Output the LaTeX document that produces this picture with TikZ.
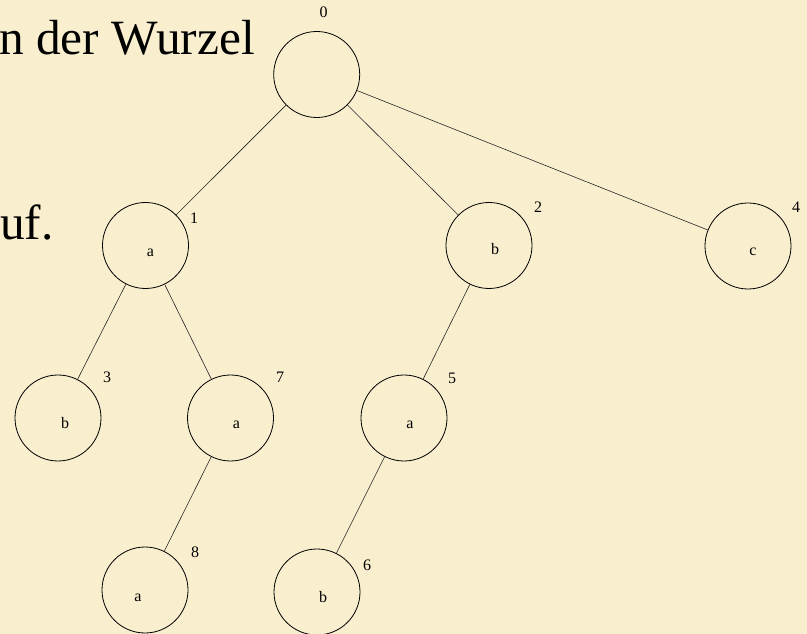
\documentclass[tikz,border=0pt]{standalone}
\usepackage{fontspec}
\setmainfont{Liberation Serif}
\begin{document}
\begin{tikzpicture}[x=0.75pt,y=-0.75pt,
  tnode/.style={circle,draw=black,line width=0.6pt,minimum size=64.5pt,inner sep=0pt},
  lett/.style={inner sep=0pt,font=\fontsize{12}{14}\selectfont},
  num/.style={inner sep=0pt,font=\fontsize{12}{14}\selectfont},
  edge/.style={draw=black!85,line width=0.45pt},
  bigtext/.style={inner sep=0pt,font=\fontsize{37}{44}\selectfont}]
\fill[fill={rgb,255:red,249;green,239;blue,206}] (0,0) rectangle (807,634);
\useasboundingbox (0,0) rectangle (807,634);
\clip (0,0) rectangle (807,634);
\node[bigtext,anchor=base east] (t1) at (255,55) {n der Wurzel};
\node[bigtext,anchor=base west] (t2) at (-22,240) {auf.};
\node[tnode,label={[lett,xshift=3.75pt,yshift=-5.25pt]center:a}] (n1) at (145.5,245.5) {};
\node[tnode] (n0) at (316.7,74.5) {};
\node[tnode,label={[lett,xshift=4.5pt,yshift=-3pt]center:b}] (n2) at (489,245.5) {};
\node[tnode,label={[lett,xshift=3.75pt,yshift=-4.5pt]center:c}] (n4) at (748,246) {};
\node[tnode,label={[lett,xshift=5.25pt,yshift=-3.75pt]center:b}] (n3) at (58,418) {};
\node[tnode,label={[lett,xshift=4.5pt,yshift=-5.25pt]center:a}] (n7) at (230.5,418) {};
\node[tnode,label={[lett,xshift=4.5pt,yshift=-5.25pt]center:a}] (n5) at (404,418) {};
\node[tnode,label={[lett,xshift=-5.25pt,yshift=-6pt]center:a}] (n8) at (145,590) {};
\node[tnode,label={[lett,xshift=4.5pt,yshift=-3.75pt]center:b}] (n6) at (317,592) {};
\path (n0) ++(7,-62) node[num] {0};
\path (n1) ++(48.5,-27.5) node[num] {1};
\path (n2) ++(49,-38) node[num] {2};
\path (n3) ++(49,-41) node[num] {3};
\path (n4) ++(48,-39) node[num] {4};
\path (n5) ++(48,-40) node[num] {5};
\path (n6) ++(50,-27) node[num] {6};
\path (n7) ++(49.5,-41) node[num] {7};
\path (n8) ++(50,-38) node[num] {8};
\draw[edge] (n0) -- (n1);
\draw[edge] (n0) -- (n2);
\draw[edge] (n0) -- (n4);
\draw[edge] (n1) -- (n3);
\draw[edge] (n1) -- (n7);
\draw[edge] (n2) -- (n5);
\draw[edge] (n7) -- (n8);
\draw[edge] (n5) -- (n6);
\end{tikzpicture}
\end{document}
